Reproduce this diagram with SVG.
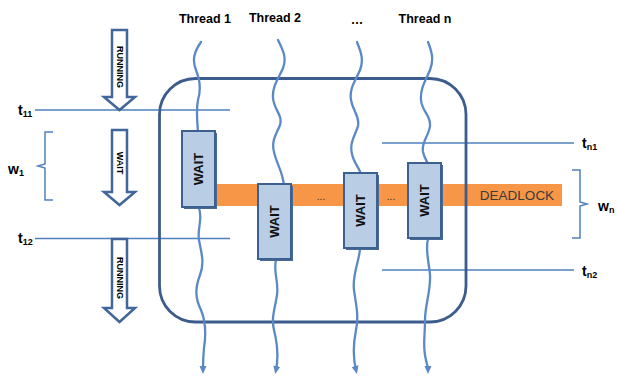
<svg xmlns="http://www.w3.org/2000/svg" width="617" height="378" viewBox="0 0 617 378">
<style>
.lbl{font-family:"Liberation Sans",Arial,sans-serif;font-weight:bold;fill:#000}
.thin{stroke:#4f81bd;stroke-width:1.5;fill:none}
.thread{stroke:#5a89c6;stroke-width:2.3;fill:none;stroke-linecap:round}
.blk{fill:#fff;stroke:#41679a;stroke-width:2.5;stroke-linejoin:miter}
.wbox{fill:#b9cde5;stroke:#3c6191;stroke-width:2}
.wshadow{fill:#4a6a96}
.wtxt{font-family:"Liberation Sans",Arial,sans-serif;font-weight:bold;font-size:13px;fill:#111}
</style>
<defs>
<marker id="ah" markerUnits="userSpaceOnUse" markerWidth="8" markerHeight="8" refX="4" refY="4" orient="auto">
<path d="M0,0.5 L8,4 L0,7.5 Z" fill="#5a89c6"/>
</marker>
</defs>
<rect width="617" height="378" fill="#fff"/>

<g id="thread-labels">
<text class="lbl" x="205" y="23" font-size="12.5" text-anchor="middle">Thread 1</text>
<text class="lbl" x="275" y="22" font-size="12.5" text-anchor="middle">Thread 2</text>
<text class="lbl" x="357" y="24" font-size="12.5" text-anchor="middle">…</text>
<text class="lbl" x="425" y="23" font-size="12.5" text-anchor="middle">Thread n</text>
</g>

<g id="time-lines">
<line class="thin" x1="35" y1="110" x2="230" y2="110"/>
<line class="thin" x1="35" y1="238.5" x2="230" y2="238.5"/>
<line class="thin" x1="382" y1="143" x2="574" y2="143"/>
<line class="thin" x1="382" y1="270" x2="574" y2="270"/>
<text class="lbl" x="18" y="115" font-size="14">t<tspan font-size="9" dy="2">11</tspan></text>
<text class="lbl" x="18" y="243" font-size="14">t<tspan font-size="9" dy="2">12</tspan></text>
<text class="lbl" x="582" y="148" font-size="14">t<tspan font-size="9" dy="2">n1</tspan></text>
<text class="lbl" x="582" y="276" font-size="14">t<tspan font-size="9" dy="2">n2</tspan></text>
</g>

<g id="bracket-w1">
<path class="thin" d="M53,132 L45,132 L45,164 L38,166 L45,168 L45,200 L53,200"/>
<text class="lbl" x="8" y="174" font-size="14">w<tspan font-size="9" dy="2">1</tspan></text>
</g>
<g id="bracket-wn">
<path class="thin" d="M572,170 L580,170 L580,202 L587,204 L580,206 L580,238 L572,238"/>
<text class="lbl" x="598" y="211" font-size="14">w<tspan font-size="9" dy="2">n</tspan></text>
</g>

<g id="arrow-running-1">
<path class="blk" d="M112,30 L127,30 L127,97 L135,97 L119.5,110 L104,97 L112,97 Z"/>
<text class="lbl" font-size="9" transform="translate(116.5,67) rotate(90)" text-anchor="middle">RUNNING</text>
</g>
<g id="arrow-wait">
<path class="blk" d="M112,130 L127,130 L127,192 L135,192 L119.5,205 L104,192 L112,192 Z"/>
<text class="lbl" font-size="9" transform="translate(116.5,163) rotate(90)" text-anchor="middle">WAIT</text>
</g>
<g id="arrow-running-2">
<path class="blk" d="M112,239 L127,239 L127,308 L135,308 L119.5,322 L104,308 L112,308 Z"/>
<text class="lbl" font-size="9" transform="translate(116.5,278) rotate(90)" text-anchor="middle">RUNNING</text>
</g>

<g id="deadlock-bar">
<rect x="212" y="184" width="350" height="22" fill="#f79646"/>
<text x="517" y="200" font-family="'Liberation Sans',Arial,sans-serif" font-size="13.5" fill="#3a3a3a" text-anchor="middle">DEADLOCK</text>
<text x="321" y="200" font-family="'Liberation Sans',Arial,sans-serif" font-size="10" fill="#333" text-anchor="middle">...</text>
<text x="391" y="200" font-family="'Liberation Sans',Arial,sans-serif" font-size="10" fill="#333" text-anchor="middle">...</text>
</g>

<g id="critical-region">
<rect x="159.5" y="78.5" width="306.5" height="243.5" rx="36" ry="36" fill="none" stroke="#3b5c8c" stroke-width="2.8"/>
</g>

<g id="connectors">
<path class="thread" marker-end="url(#ah)" d="M201,42 C194,52 192,60 196,70 C200,80 201,90 198,100 C196,110 197,120 198,132 L199,208 C203,220 197,228 199,240 C201,252 205,262 200,275 C195,288 195,298 201,310 C206,322 206,335 204,348 C203,358 203,364 203,370"/>
<path class="thread" marker-end="url(#ah)" d="M278,40 C283,50 287,58 283,68 C279,78 272,86 273,98 C274,110 283,115 280,125 C277,133 271,140 274,152 C277,165 283,172 284,186 L276,260 C273,272 279,282 277,295 C275,308 271,318 274,330 C277,342 279,355 276,370"/>
<path class="thread" marker-end="url(#ah)" d="M357,42 C361,52 364,60 360,70 C356,80 349,88 351,100 C353,112 360,116 358,126 C356,134 349,142 352,154 C354,164 360,168 361,175 L360,249 C359,262 352,275 354,290 C356,305 359,315 356,330 C353,345 353,358 356,370"/>
<path class="thread" marker-end="url(#ah)" d="M428,42 C432,52 434,60 430,70 C426,80 420,88 421,100 C422,112 431,115 430,126 C429,136 421,142 423,152 C425,160 428,162 428,165 L428,239 C425,250 429,262 430,275 C431,290 425,305 425,320 C425,335 423,345 425,355 C426,362 428,366 428,370"/>
</g>

<g id="wait-1">
<rect class="wshadow" x="184" y="133" width="33" height="76"/>
<rect class="wbox" x="182" y="131" width="33" height="76"/>
<text class="wtxt" transform="translate(203,169) rotate(-90)" text-anchor="middle">WAIT</text>
</g>
<g id="wait-2">
<rect class="wshadow" x="260" y="186" width="33" height="75"/>
<rect class="wbox" x="258" y="184" width="33" height="75"/>
<text class="wtxt" transform="translate(279,221.5) rotate(-90)" text-anchor="middle">WAIT</text>
</g>
<g id="wait-3">
<rect class="wshadow" x="346" y="175" width="33" height="75"/>
<rect class="wbox" x="344" y="173" width="33" height="75"/>
<text class="wtxt" transform="translate(365,210.5) rotate(-90)" text-anchor="middle">WAIT</text>
</g>
<g id="wait-4">
<rect class="wshadow" x="410" y="165" width="33" height="75"/>
<rect class="wbox" x="408" y="163" width="33" height="75"/>
<text class="wtxt" transform="translate(429,200.5) rotate(-90)" text-anchor="middle">WAIT</text>
</g>
</svg>
